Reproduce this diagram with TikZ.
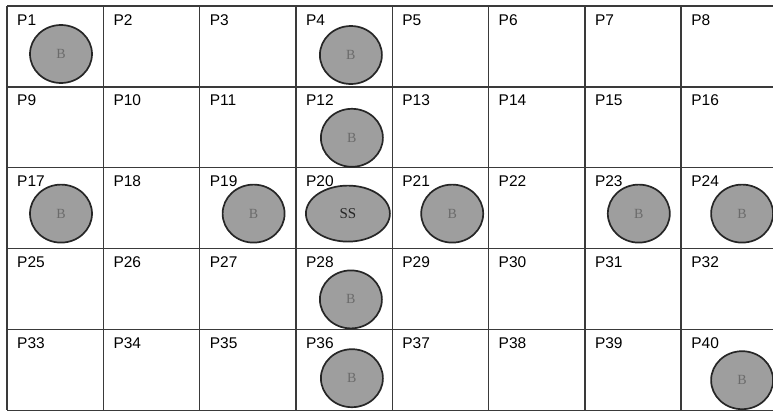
\documentclass[tikz,border=0pt]{standalone}
\usepackage{fontspec}
\setmainfont{Liberation Serif}
\newfontfamily\arialf{Liberation Sans}
\usetikzlibrary{shapes.geometric}
\definecolor{bfill}{HTML}{9E9E9E}
\definecolor{bline}{HTML}{262626}
\definecolor{gridc}{HTML}{3A3A3A}
\tikzset{
  cellbox/.style={minimum width=96.3pt, minimum height=80.8pt, inner sep=0pt, anchor=north west},
  gridline/.style={draw=gridc, line width=1.4pt},
  celllabel/.style={font=\arialf\fontsize{15.5}{15.5}\selectfont, inner sep=0pt, anchor=base west},
  bnode/.style={ellipse, draw=bline, line width=1.7pt, fill=bfill, minimum width=62pt, minimum height=58pt, inner sep=0pt, font=\fontsize{14}{14}\selectfont, text=black!58},
  ssnode/.style={ellipse, draw=bline, line width=1.7pt, fill=bfill, minimum width=84pt, minimum height=56pt, inner sep=0pt, font=\fontsize{15}{15}\selectfont, text=black!85},
}
\begin{document}
\begin{tikzpicture}[x=1pt,y=-1pt]
\useasboundingbox (0,0) rectangle (773,413);
\foreach \r in {0,...,4}{
  \foreach \c in {0,...,7}{
    \pgfmathtruncatemacro{\n}{\r*8+\c+1}
    \node[cellbox] (c\n) at ({7+96.3*\c},{6+80.8*\r}) {};
    \node[celllabel] (l\n) at ({17+96.3*\c},{25+80.8*\r}) {P\n};
  }
}
% grid lines, drawn once
\foreach \n in {1,9,17,25,33}{
  \draw[gridline] (c\n.north west) -- ([xshift=10pt]c\n.north west -| c8.north east);
}
\draw[gridline] (c33.south west) -- ([xshift=10pt]c40.south east);
\foreach \n in {1,...,8}{
  \draw[gridline] (c\n.north west) -- (c\n.north west |- c33.south west);
}
% B nodes: offsets from cell's north west
\node[bnode] (b1)  at ([shift={(54pt,-48pt)}]c1.north west) {B};
\node[bnode] (b4)  at ([shift={(55pt,-49pt)}]c4.north west) {B};
\node[bnode] (b12) at ([shift={(56pt,-51pt)}]c12.north west) {B};
\node[bnode] (b17) at ([shift={(54pt,-46pt)}]c17.north west) {B};
\node[bnode] (b19) at ([shift={(54pt,-46pt)}]c19.north west) {B};
\node[ssnode] (s20) at ([shift={(52pt,-46pt)}]c20.north west) {SS};
\node[bnode] (b21) at ([shift={(60pt,-46pt)}]c21.north west) {B};
\node[bnode] (b23) at ([shift={(54pt,-46pt)}]c23.north west) {B};
\node[bnode] (b24) at ([shift={(61pt,-46pt)}]c24.north west) {B};
\node[bnode] (b28) at ([shift={(55pt,-51pt)}]c28.north west) {B};
\node[bnode] (b36) at ([shift={(56pt,-49pt)}]c36.north west) {B};
\node[bnode] (b40) at ([shift={(61pt,-51pt)}]c40.north west) {B};
\end{tikzpicture}
\end{document}
